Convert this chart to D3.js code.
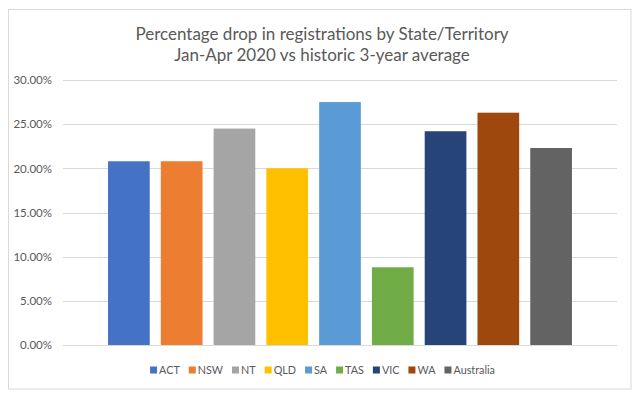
<!DOCTYPE html>
<html><head><meta charset="utf-8">
<script src="https://cdn.jsdelivr.net/npm/d3@7"></script>
<style>body{margin:0;background:#fff}svg{display:block}</style>
</head><body>
<svg id="c" width="639" height="396"></svg>
<script>
const series = ["ACT","NSW","NT","QLD","SA","TAS","VIC","WA","Australia"];
const values = [0.208,0.208,0.245,0.200,0.275,0.088,0.242,0.263,0.223];
const colors = ["#4472C4","#ED7D31","#A5A5A5","#FFC000","#5B9BD5","#70AD47","#264478","#9E480E","#636363"];
const yTicks = [0,0.05,0.10,0.15,0.20,0.25,0.30];
const titleLines = ["Percentage drop in registrations by State/Territory","Jan-Apr 2020 vs historic 3-year average"];

const svg = d3.select("#c");
const font = "Lato, 'Open Sans', sans-serif";
svg.append("rect").attr("x",8.5).attr("y",9.5).attr("width",622.5).attr("height",379.5)
  .attr("fill","#fff").attr("stroke","#d9d9d9").attr("stroke-width",1);

const plot = {l:63, r:617, t:80, b:345};
const y = d3.scaleLinear().domain([0,0.30]).range([plot.b, plot.t]);
const x = d3.scaleBand().domain(series).range([plot.l+39.5, plot.r-39.5]).paddingInner(0.21).paddingOuter(0.105);

const g = svg.append("g");
g.selectAll("line.grid").data(yTicks).join("line")
  .attr("x1",plot.l).attr("x2",plot.r)
  .attr("y1",d=>Math.round(y(d))+0.5).attr("y2",d=>Math.round(y(d))+0.5)
  .attr("stroke","#d9d9d9").attr("stroke-width",1);

const yAxis = d3.axisLeft(y).tickValues(yTicks).tickFormat(d3.format(".2%")).tickSize(0).tickPadding(0);
const ya = svg.append("g").attr("transform","translate(52,0)").call(yAxis);
ya.select(".domain").remove();
ya.selectAll("text").attr("fill","#595959").style("font-family",font).style("font-size","11.5px");

g.selectAll("rect.bar").data(series).join("rect")
  .attr("x",d=>x(d)).attr("width",x.bandwidth())
  .attr("y",(d,i)=>y(values[i])).attr("height",(d,i)=>y(0)-y(values[i]))
  .attr("fill",(d,i)=>colors[i]);

svg.selectAll("text.title").data(titleLines).join("text")
  .attr("x",322).attr("y",(d,i)=>39.5+i*21).attr("text-anchor","middle")
  .attr("fill","#595959").style("font-family",font).style("font-size","17px").text(d=>d);

// legend
const lg = svg.append("g");
const items = lg.selectAll("g").data(series).join("g");
items.append("rect").attr("width",7).attr("height",7).attr("y",-3.5).attr("fill",(d,i)=>colors[i]);
items.append("text").attr("x",9).attr("dy","0.35em").attr("fill","#595959")
  .style("font-family",font).style("font-size","10.8px").text(d=>d);
let pos = 0; const offs = [];
items.each(function(d){ offs.push(pos); pos += 9 + d3.select(this).select("text").node().getComputedTextLength() + 9; });
const total = pos - 9;
const start = 322.5 - total/2;
items.attr("transform",(d,i)=>`translate(${start+offs[i]},370)`);
</script>
</body></html>
